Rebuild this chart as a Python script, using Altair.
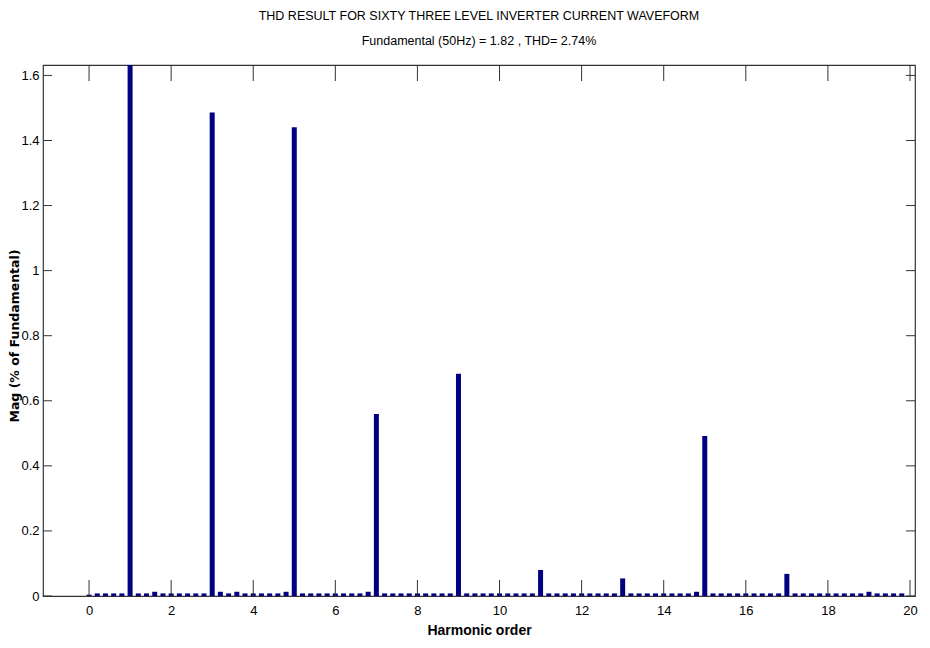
import altair as alt
import pandas as pd

# Harmonic orders (0.2 resolution, 10 Hz bins relative to 50 Hz fundamental)
harmonic_order = [round(0.2 * i, 1) for i in range(100)]

# Magnitude (% of fundamental); fundamental (order 1) is 100 and clipped
magnitude = [
    0.004, 0.008, 0.008, 0.008, 0.008,            # 0.0 - 0.8
    100.0, 0.008, 0.008, 0.013, 0.008,            # 1.0 - 1.8
    0.008, 0.008, 0.008, 0.008, 0.008,            # 2.0 - 2.8
    1.486, 0.013, 0.008, 0.013, 0.008,            # 3.0 - 3.8
    0.008, 0.008, 0.008, 0.008, 0.013,            # 4.0 - 4.8
    1.441, 0.008, 0.008, 0.008, 0.008,            # 5.0 - 5.8
    0.008, 0.008, 0.008, 0.008, 0.013,            # 6.0 - 6.8
    0.559, 0.008, 0.008, 0.008, 0.008,            # 7.0 - 7.8
    0.008, 0.008, 0.008, 0.008, 0.008,            # 8.0 - 8.8
    0.683, 0.008, 0.008, 0.008, 0.008,            # 9.0 - 9.8
    0.008, 0.008, 0.008, 0.008, 0.008,            # 10.0 - 10.8
    0.080, 0.008, 0.008, 0.008, 0.008,            # 11.0 - 11.8
    0.008, 0.008, 0.008, 0.008, 0.008,            # 12.0 - 12.8
    0.054, 0.008, 0.008, 0.008, 0.008,            # 13.0 - 13.8
    0.008, 0.008, 0.008, 0.008, 0.013,            # 14.0 - 14.8
    0.492, 0.008, 0.008, 0.008, 0.008,            # 15.0 - 15.8
    0.008, 0.008, 0.008, 0.008, 0.008,            # 16.0 - 16.8
    0.068, 0.008, 0.008, 0.008, 0.008,            # 17.0 - 17.8
    0.008, 0.008, 0.008, 0.008, 0.008,            # 18.0 - 18.8
    0.013, 0.008, 0.008, 0.008, 0.008,            # 19.0 - 19.8
]

x_ticks = [0, 2, 4, 6, 8, 10, 12, 14, 16, 18, 20]
y_ticks = [0, 0.2, 0.4, 0.6, 0.8, 1.0, 1.2, 1.4, 1.6]

x_domain = [-1, 20]
y_domain = [0, 1.632]

title_text = "THD RESULT FOR SIXTY THREE LEVEL INVERTER CURRENT WAVEFORM"
subtitle_text = "Fundamental (50Hz) = 1.82 , THD= 2.74%"

W, H = 872, 531
FONT = "Liberation Sans"

df = pd.DataFrame({"h": harmonic_order, "mag": magnitude})
xt = pd.DataFrame({"h": x_ticks})
yt = pd.DataFrame({"mag": y_ticks})

xscale = alt.Scale(domain=x_domain, nice=False, zero=False)
yscale = alt.Scale(domain=y_domain, nice=False, zero=False)

x_axis = alt.Axis(
    values=x_ticks, title="Harmonic order", ticks=False, tickSize=0, domain=False, grid=False,
    labelFont=FONT, labelFontSize=13, labelColor="black", labelPadding=8,
    titleFont=FONT, titleFontSize=14, titleFontWeight="bold", titleColor="black", titlePadding=6,
)
y_axis = alt.Axis(
    values=y_ticks, title="Mag (% of Fundamental)", ticks=False, tickSize=0, domain=False, grid=False,
    labelFont=FONT, labelFontSize=13, labelColor="black", labelPadding=4,
    labelExpr="datum.value == 0 ? '0' : format(datum.value, '.1~f')",
    titleFont="DejaVu Sans", titleFontSize=12.5, titleFontWeight="bold", titleColor="black",
    titleAngle=270, titleX=-22, titleY=H / 2 + 5, titleAlign="center", titleBaseline="bottom",
)

X = alt.X("h:Q", scale=xscale, axis=x_axis)
Y = alt.Y("mag:Q", scale=yscale, axis=y_axis)

bars = alt.Chart(df).mark_bar(size=5, clip=True, color="#000080", orient="vertical").encode(x=X, y=Y)

tick_color = "#333333"
xt_bottom = alt.Chart(xt).mark_rule(color=tick_color, strokeWidth=1).encode(
    x=X, y=alt.value(H), y2=alt.value(H - 16))
xt_top = alt.Chart(xt).mark_rule(color=tick_color, strokeWidth=1).encode(
    x=X, y=alt.value(0), y2=alt.value(16))
yt_left = alt.Chart(yt).mark_rule(color=tick_color, strokeWidth=1).encode(
    y=Y, x=alt.value(0), x2=alt.value(9))
yt_right = alt.Chart(yt).mark_rule(color=tick_color, strokeWidth=1).encode(
    y=Y, x=alt.value(W - 9), x2=alt.value(W))

chart = alt.layer(bars, xt_bottom, xt_top, yt_left, yt_right).properties(
    width=W, height=H,
    title=alt.TitleParams(
        text=title_text, subtitle=subtitle_text,
        font=FONT, fontSize=12.5, fontWeight="normal", color="black",
        subtitleFont=FONT, subtitleFontSize=12.5, subtitleColor="black",
        subtitlePadding=13, anchor="middle", offset=17,
    ),
    autosize=alt.AutoSizeParams(type="none"),
    padding={"left": 35, "top": 57, "right": 7, "bottom": 44},
).configure(
    background="white",
    view=alt.ViewConfig(stroke="#333333", strokeWidth=1.2),
)

chart.save("out.html", embed_options={"renderer": "svg", "actions": False})
